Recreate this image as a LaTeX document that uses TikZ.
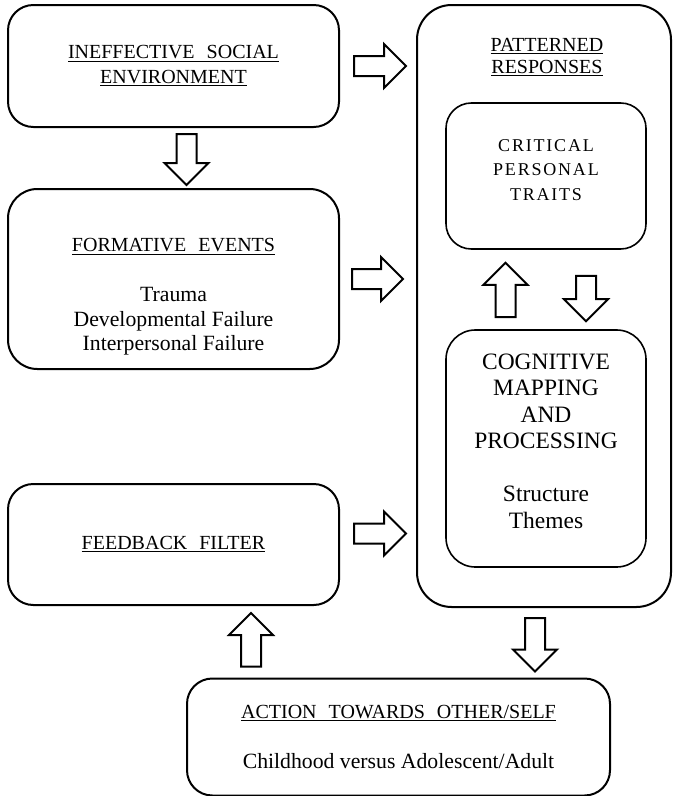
\documentclass[tikz,border=0pt]{standalone}
\usepackage{fontspec}
\setmainfont{Liberation Serif}
\usetikzlibrary{calc}

\newdimen\pxu
\pxu=0.75pt

\newcommand{\bodysize}{\fontsize{16.3pt}{18.8pt}\selectfont}

\tikzset{
  box/.style={draw, line width=1.5pt, rounded corners=19pt, align=center, inner sep=0pt,
    font=\fontsize{15pt}{18.4pt}\selectfont},
  innerbox/.style={box, line width=1.2pt},
  txt/.style={align=center, inner sep=0pt, font=\fontsize{15pt}{18.6pt}\selectfont},
  % block arrow from start to target, #1 and #2 are the gaps at both ends
  blk/.style 2 args={draw, line width=1.5pt, fill=white, line join=miter,
    to path={
      ($(\tikztostart)!#1!(\tikztotarget)$) coordinate (bs)
      ($(\tikztotarget)!#2!(\tikztostart)$) coordinate (bt)
      ($(bt)!16.5pt!(bs)$) coordinate (bh)
      ($(bs)!7.5pt!90:(bt)$) -- ($(bh)!7.5pt!90:(bt)$) -- ($(bh)!16.5pt!90:(bt)$)
      -- (bt) -- ($(bh)!16.5pt!-90:(bt)$) -- ($(bh)!7.5pt!-90:(bt)$)
      -- ($(bs)!7.5pt!-90:(bt)$) -- cycle}}
}

\begin{document}
\begin{tikzpicture}[x=0.75pt, y=-0.75pt]
  \useasboundingbox (0,0) rectangle (673,796);

  % left column
  \node[box, minimum width=331\pxu, minimum height=122\pxu] (ineff) at (173.5,66)
    {\underline{INEFFECTIVE\hspace{.35em} SOCIAL}\\ \underline{ENVIRONMENT}};
  \node[box, rounded corners=22pt, minimum width=331\pxu, minimum height=180\pxu] (form) at (173.5,279) {};
  \node[txt] (formtxt) at (173.5,297)
    {\underline{FORMATIVE\hspace{.35em} EVENTS}\\[18.6pt] \bodysize Trauma\\
     \bodysize Developmental Failure\\ \bodysize Interpersonal Failure};
  \node[box, minimum width=331\pxu, minimum height=121\pxu] (feed) at (173.5,544.5)
    {\underline{FEEDBACK\hspace{.35em} FILTER}};

  % patterned responses
  \node[box, rounded corners=26pt, minimum width=254\pxu, minimum height=602\pxu] (pattern) at (544,306) {};
  \node[txt, font=\fontsize{15pt}{16.5pt}\selectfont] (patterntxt) at (547,57)
    {\underline{PATTERNED}\\ \underline{RESPONSES}};
  \node[innerbox, minimum width=200\pxu, minimum height=146\pxu] (crit) at (546,176) {};
  \node[txt, font=\fontsize{13.5pt}{18.5pt}\selectfont\addfontfeature{LetterSpace=10}] (crittxt) at (546,170)
    {CRITICAL\\ PERSONAL\\ TRAITS};
  \node[innerbox, rounded corners=22pt, minimum width=200\pxu, minimum height=237\pxu] (cogn) at (546,448.5) {};
  \node[txt, font=\fontsize{17.6pt}{19.9pt}\selectfont] (cogntxt) at (546,441)
    {COGNITIVE\\ MAPPING\\ AND\\ PROCESSING\\[19.9pt] Structure\\ Themes};

  % action
  \node[box, minimum width=423\pxu, minimum height=117\pxu] (action) at (398.5,737)
    {\underline{ACTION\hspace{.35em} TOWARDS\hspace{.35em} OTHER/SELF}\\[19pt] \bodysize Childhood versus Adolescent/Adult};

  % arrows
  \coordinate (fbx) at ($(feed.east)+(0,-11)$);
  \coordinate (d1) at ($(ineff.south)+(13,0)$);
  \coordinate (u1) at ($(cogn.north)+(-40.5,0)$);
  \coordinate (d2) at ($(crit.south)+(40,0)$);
  \coordinate (u2) at ($(action.north west)+(65,0)$);
  \coordinate (d3) at ($(pattern.south)+(-9,0)$);

  \draw[blk={10.5pt}{7.5pt}] (ineff.east) to (ineff.east -| pattern.west);
  \draw[blk={9pt}{9.75pt}] (form.east) to (form.east -| pattern.west);
  \draw[blk={10.5pt}{7.5pt}] (fbx) to (fbx -| pattern.west);
  \draw[blk={4.5pt}{2.25pt}] (d1) to (d1 |- form.north);
  \draw[blk={9pt}{9.75pt}] (u1) to (u1 |- crit.south);
  \draw[blk={19.5pt}{6pt}] (d2) to (d2 |- cogn.north);
  \draw[blk={8.25pt}{5.25pt}] (u2) to (u2 |- feed.south);
  \draw[blk={7.5pt}{4.5pt}] (d3) to (d3 |- action.north);
\end{tikzpicture}
\end{document}
